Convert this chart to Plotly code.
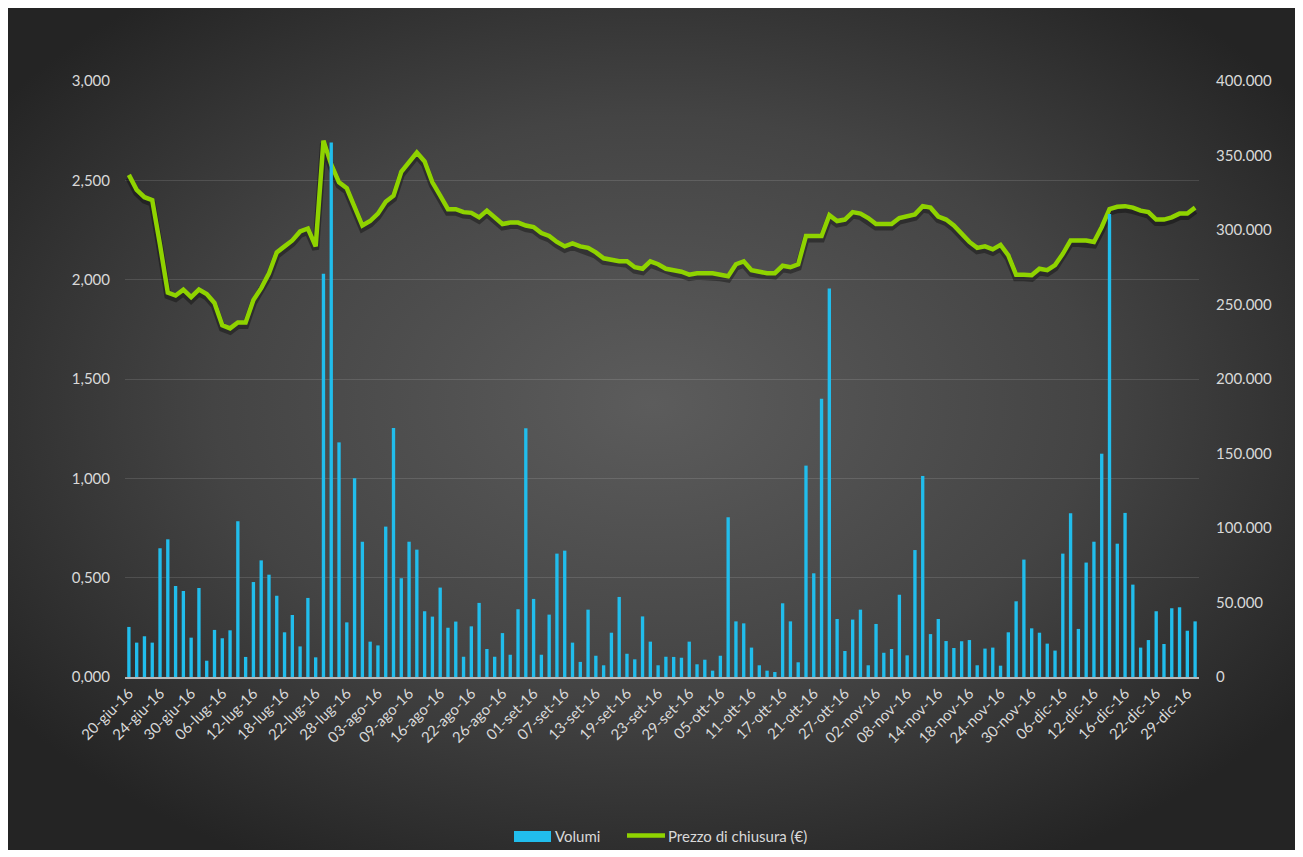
import base64
import pandas as pd
import plotly.graph_objects as go

# ---------------- data ----------------
months_it = {6: "giu", 7: "lug", 8: "ago", 9: "set", 10: "ott", 11: "nov", 12: "dic"}
trading_days = pd.bdate_range("2016-06-20", "2016-12-30", freq="C",
                              holidays=["2016-08-15", "2016-12-26"])
categories = [f"{d.day:02d}-{months_it[d.month]}-{d.strftime('%y')}" for d in trading_days]

tick_labels = ["20-giu-16", "24-giu-16", "30-giu-16", "06-lug-16", "12-lug-16", "18-lug-16",
               "22-lug-16", "28-lug-16", "03-ago-16", "09-ago-16", "16-ago-16", "22-ago-16",
               "26-ago-16", "01-set-16", "07-set-16", "13-set-16", "19-set-16", "23-set-16",
               "29-set-16", "05-ott-16", "11-ott-16", "17-ott-16", "21-ott-16", "27-ott-16",
               "02-nov-16", "08-nov-16", "14-nov-16", "18-nov-16", "24-nov-16", "30-nov-16",
               "06-dic-16", "12-dic-16", "16-dic-16", "22-dic-16", "29-dic-16"]

volumi = [252, 173, 205, 173, 648, 693, 458, 433, 198, 448,
          82, 237, 195, 235, 784, 101, 478, 587, 515, 409,
          225, 312, 154, 398, 99, 2030, 2690, 1181, 275, 1000,
          681, 178, 159, 757, 1253, 497, 681, 641, 331, 304,
          450, 248, 279, 102, 255, 373, 141, 102, 221, 112,
          341, 1252, 393, 112, 314, 621, 636, 173, 76, 339,
          107, 59, 223, 403, 117, 89, 305, 178, 59, 102,
          101, 97, 178, 64, 87, 32, 107, 804, 280, 270,
          148, 59, 32, 25, 371, 280, 74, 1064, 522, 1400,
          1955, 292, 131, 289, 339, 59, 267, 122, 141, 414,
          109, 639, 1012, 216, 292, 181, 146, 180, 186, 59,
          143, 148, 57, 225, 381, 591, 245, 223, 168, 133,
          621, 824, 242, 576, 681, 1124, 2330, 671, 826, 465,
          148, 186, 331, 166, 346, 351, 233, 280]

prezzo = [337, 327, 322, 320, 290, 258, 256, 260, 255, 260,
          257, 251, 236, 234, 238, 238, 253, 261, 271, 285,
          289, 293, 299, 301, 289, 360, 344, 332, 328, 316,
          303, 306, 311, 319, 323, 339, 346, 352, 346, 332,
          323, 314, 314, 312, 311.5, 308.5, 313, 308, 304, 305,
          305, 303, 302, 298, 296, 292, 289, 291, 289, 288,
          285, 281, 280, 279, 279, 275, 274, 279, 277, 274,
          273, 272, 270, 271, 271, 271, 270, 269, 277, 279,
          273, 272, 271, 271, 276, 275, 277, 296, 296, 296,
          310, 306, 307, 312, 311, 308, 304, 304, 304, 308,
          309, 310.5, 316, 315, 309, 307, 303, 297, 292, 288,
          289, 287, 290, 283, 270, 270, 269.6, 274, 273, 276.5,
          284, 293, 293, 293, 292, 302, 314, 315.6, 316, 315,
          313, 312, 307, 307, 308.5, 311, 311, 315]

vol_tickvals = [0, 500, 1000, 1500, 2000, 2500, 3000]
vol_ticktext = ["0,000", "0,500", "1,000", "1,500", "2,000", "2,500", "3,000"]
price_tickvals = [0, 50, 100, 150, 200, 250, 300, 350, 400]
price_ticktext = ["0", "50.000", "100.000", "150.000", "200.000", "250.000",
                  "300.000", "350.000", "400.000"]

# ---------------- layout geometry ----------------
OFF = 8                      # page body margin
W, H = 1289, 842             # figure size
PLOT_L, PLOT_R, PLOT_T, PLOT_B = 125, 1199, 81, 677   # page pixel bounds of plot area
L, R = PLOT_L - OFF, W - (PLOT_R - OFF)
T, B = PLOT_T - OFF, H - (PLOT_B - OFF)
PW, PH = W - L - R, H - T - B


def px_x(px):
    return (px - PLOT_L) / PW


def px_y(py):
    return (PLOT_B - py) / PH


FONT = "Lato, 'Open Sans', sans-serif"
TXT = "#d9d9d9"
BAR_C = "#21BDEC"
LINE_C = "#8FD300"

# radial gradient background as svg
svg = f"""<svg xmlns='http://www.w3.org/2000/svg' width='{W}' height='{H}' viewBox='0 0 {W} {H}' preserveAspectRatio='none'>
<defs><radialGradient id='g' cx='0.5' cy='0.47' r='0.62'>
<stop offset='0' stop-color='#5c5c5c'/><stop offset='0.55' stop-color='#444444'/>
<stop offset='1' stop-color='#242424'/></radialGradient></defs>
<rect width='{W}' height='{H}' fill='url(#g)'/></svg>"""
bg_src = "data:image/svg+xml;base64," + base64.b64encode(svg.encode()).decode()

fig = go.Figure()

# shadow of the price line (base subplot, hidden axis slightly shifted)
fig.add_trace(go.Scatter(x=categories, y=prezzo, mode="lines", yaxis="y",
                         line=dict(color="rgba(0,0,0,0.35)", width=7),
                         hoverinfo="skip", showlegend=False))
# price line
fig.add_trace(go.Scatter(x=categories, y=prezzo, mode="lines", yaxis="y2",
                         name="Prezzo di chiusura (€)",
                         line=dict(color=LINE_C, width=4.5), showlegend=False))
# volumes
fig.add_trace(go.Bar(x=categories, y=volumi, yaxis="y3", name="Volumi",
                     marker=dict(color=BAR_C, line=dict(width=0)), showlegend=False))

shift = 3 / PH * 400

fig.update_layout(
    width=W, height=H,
    margin=dict(l=L, r=R, t=T, b=B, pad=0),
    paper_bgcolor="#2a2a2a",
    plot_bgcolor="rgba(0,0,0,0)",
    bargap=0.57,
    font=dict(family=FONT, color=TXT, size=15),
    xaxis=dict(type="category", categoryorder="array", categoryarray=categories,
               range=[-0.5, len(categories) - 0.5],
               tickvals=tick_labels, ticktext=tick_labels, tickangle=-45,
               tickfont=dict(size=15, color=TXT, family=FONT),
               showgrid=False, showline=True, linecolor="#b8b8b8", linewidth=1.5,
               ticks="", zeroline=False),
    yaxis=dict(range=[0 + shift, 400 + shift], visible=False, showgrid=False,
               fixedrange=True),
    yaxis2=dict(overlaying="y", side="right", range=[0, 400],
                tickvals=price_tickvals, ticktext=price_ticktext,
                showgrid=False, zeroline=False, ticks="", ticklabelstandoff=16,
                tickfont=dict(size=15, color=TXT, family=FONT)),
    yaxis3=dict(overlaying="y", side="left", range=[0, 3000],
                tickvals=vol_tickvals, ticktext=vol_ticktext,
                showgrid=True, gridcolor="rgba(255,255,255,0.12)", gridwidth=1,
                zeroline=False, ticks="", ticklabelstandoff=14,
                tickfont=dict(size=15, color=TXT, family=FONT)),
    images=[dict(source=bg_src, xref="paper", yref="paper",
                 x=px_x(OFF), y=px_y(OFF), sizex=W / PW, sizey=H / PH,
                 xanchor="left", yanchor="top", sizing="stretch", layer="below")],
    shapes=[
        dict(type="rect", xref="paper", yref="paper",
             x0=px_x(514), x1=px_x(551), y0=px_y(842), y1=px_y(831),
             fillcolor=BAR_C, line=dict(width=0)),
        dict(type="line", xref="paper", yref="paper",
             x0=px_x(627), x1=px_x(665), y0=px_y(835.5), y1=px_y(835.5),
             line=dict(color=LINE_C, width=4.5)),
    ],
    annotations=[
        dict(text="Volumi", xref="paper", yref="paper", x=px_x(553), y=px_y(836),
             xanchor="left", yanchor="middle", showarrow=False,
             font=dict(size=15, color=TXT, family=FONT)),
        dict(text="Prezzo di chiusura (€)", xref="paper", yref="paper",
             x=px_x(666), y=px_y(836), xanchor="left", yanchor="middle",
             showarrow=False, font=dict(size=15, color=TXT, family=FONT)),
    ],
    showlegend=False,
)

fig.write_html("out.html")
